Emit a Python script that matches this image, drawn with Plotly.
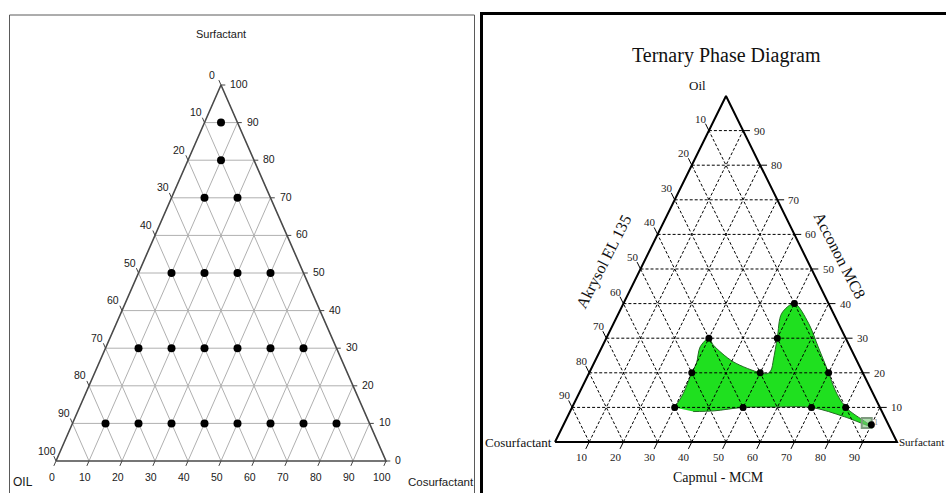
import plotly.graph_objects as go

W, H = 946, 493

# ---------------- Left diagram: Surfactant (top), OIL (bottom-left), Cosurfactant (bottom-right)
left_ticks = [0, 10, 20, 30, 40, 50, 60, 70, 80, 90, 100]
left_tick_text = [str(v) for v in left_ticks]
left_surfactant = [90, 80, 70, 70, 50, 50, 50, 50, 30, 30, 30, 30, 30, 30,
                   10, 10, 10, 10, 10, 10, 10, 10]
left_cosurfactant = [5, 10, 10, 20, 10, 20, 30, 40, 10, 20, 30, 40, 50, 60,
                     10, 20, 30, 40, 50, 60, 70, 80]
left_oil = [5, 10, 20, 10, 40, 30, 20, 10, 60, 50, 40, 30, 20, 10,
            80, 70, 60, 50, 40, 30, 20, 10]

# ---------------- Right diagram: Oil (top), Cosurfactant (bottom-left), Surfactant (bottom-right)
right_ticks = [10, 20, 30, 40, 50, 60, 70, 80, 90]
right_tick_text = [str(v) for v in right_ticks]
right_oil = [40, 30, 30, 20, 20, 20, 10, 10, 10, 10, 5]
right_surfactant = [50, 30, 50, 30, 50, 70, 30, 50, 70, 80, 90]
right_cosurfactant = [10, 40, 20, 50, 30, 10, 60, 40, 20, 10, 5]

# microemulsion region boundary (oil %, surfactant %)
region_oil = [8.8, 9.0, 10, 10.1, 10, 7.3, 4.6, 10, 15, 20, 27.5, 34.3, 40,
              37.2, 30, 23.7, 20.8, 19.8, 20, 23.2, 28, 30, 27.5, 22.7, 20, 14, 10]
region_surfactant = [36, 42, 50, 59, 70, 81, 90, 80, 74.4, 70, 63.2, 57, 50,
                     47.7, 50, 52, 52.8, 52.3, 50, 40.5, 32.3, 30, 28.7, 30, 30, 30.5, 30]

# highlighted (selected) composition
sel_oil = [5.5]
sel_surfactant = [88.4]


def tern_xy(top, right):
    """Project a ternary composition onto the triangle plane (0..100 units)."""
    return right + top / 2.0, top


def xy_lists(tops, rights):
    xs, ys = [], []
    for t, r in zip(tops, rights):
        x, y = tern_xy(t, r)
        xs.append(x)
        ys.append(y)
    return xs, ys


def segments(pairs):
    """pairs: list of ((top, right), (top, right)) -> x/y lists with gaps."""
    xs, ys = [], []
    for (t0, r0), (t1, r1) in pairs:
        x0, y0 = tern_xy(t0, r0)
        x1, y1 = tern_xy(t1, r1)
        xs += [x0, x1, None]
        ys += [y0, y1, None]
    return xs, ys


def grid_pairs(values):
    pairs = []
    for v in values:
        # constant top component (horizontal)
        pairs.append(((v, 0), (v, 100 - v)))
        # constant right component
        pairs.append(((0, v), (100 - v, v)))
        # constant left component
        pairs.append(((0, 100 - v), (100 - v, 0)))
    return pairs


def tick_pairs(values, t):
    """Short extensions of the grid lines beyond each edge."""
    right_edge, left_edge, bottom = [], [], []
    for v in values:
        # right edge: constant top = v, left component pushed to -t
        right_edge.append(((v, 100 - v), (v, 100 - v + t)))
        # left edge: constant left component = v, right component pushed to -t
        left_edge.append(((100 - v, 0), (100 - v + t, -t)))
        # bottom: constant right component = v, top pushed to -t
        bottom.append(((0, v), (-t, v)))
    return right_edge + left_edge + bottom


def domain(p0, p100, lo, hi, total, vertical):
    def px(v):
        return p0 + (p100 - p0) * v / 100.0
    if vertical:
        return [1 - px(lo) / total, 1 - px(hi) / total]
    return [px(lo) / total, px(hi) / total]


fig = go.Figure()

# ===================== left diagram =====================
L_X0, L_X100, L_Y0, L_Y100 = 56, 386, 461, 85
lx_rng, ly_rng = (-13, 113), (-7, 108)

gx, gy = segments(grid_pairs(left_ticks[1:-1]))
fig.add_trace(go.Scatter(x=gx, y=gy, mode="lines", xaxis="x", yaxis="y",
                         line=dict(color="#b0b0b0", width=1), hoverinfo="skip"))
tx, ty = segments(tick_pairs(left_ticks, 1.3))
fig.add_trace(go.Scatter(x=tx, y=ty, mode="lines", xaxis="x", yaxis="y",
                         line=dict(color="#444444", width=1), hoverinfo="skip"))
ex, ey = xy_lists([0, 0, 100, 0], [0, 100, 0, 0])
fig.add_trace(go.Scatter(x=ex, y=ey, mode="lines", xaxis="x", yaxis="y",
                         line=dict(color="#4a4a4a", width=1.6), hoverinfo="skip"))
px_, py_ = xy_lists(left_surfactant, left_cosurfactant)
fig.add_trace(go.Scatter(x=px_, y=py_, mode="markers", xaxis="x", yaxis="y",
                         marker=dict(color="black", size=8), cliponaxis=False,
                         customdata=list(zip(left_surfactant, left_oil, left_cosurfactant)),
                         hovertemplate="Surfactant %{customdata[0]}<br>Oil %{customdata[1]}"
                                       "<br>Cosurfactant %{customdata[2]}<extra></extra>"))

# ===================== right diagram =====================
R_X0, R_X100, R_Y0, R_Y100 = 555, 897, 442, 96
rx_rng, ry_rng = (-12, 111), (-8, 106)

rgx, rgy = xy_lists(region_oil, region_surfactant)
fig.add_trace(go.Scatter(x=rgx, y=rgy, mode="lines", xaxis="x2", yaxis="y2",
                         fill="toself", fillcolor="#1fe01f",
                         line=dict(color="#246b24", width=1, shape="spline", smoothing=0.9),
                         hoverinfo="skip"))
gx, gy = segments(grid_pairs(right_ticks))
fig.add_trace(go.Scatter(x=gx, y=gy, mode="lines", xaxis="x2", yaxis="y2",
                         line=dict(color="black", width=1, dash="3px,2px"), hoverinfo="skip"))
tx, ty = segments(tick_pairs(right_ticks, 2.0))
fig.add_trace(go.Scatter(x=tx, y=ty, mode="lines", xaxis="x2", yaxis="y2",
                         line=dict(color="black", width=1), hoverinfo="skip"))
ex, ey = xy_lists([0, 0, 100, 0], [0, 100, 0, 0])
fig.add_trace(go.Scatter(x=ex, y=ey, mode="lines", xaxis="x2", yaxis="y2",
                         line=dict(color="black", width=2), hoverinfo="skip"))
sx, sy = xy_lists(sel_oil, sel_surfactant)
fig.add_trace(go.Scatter(x=sx, y=sy, mode="markers+text", xaxis="x2", yaxis="y2",
                         text=["1"], textposition="middle right",
                         textfont=dict(family="Liberation Serif", size=8, color="#888888"),
                         marker=dict(symbol="square", size=10, color="rgba(120,200,120,0.6)",
                                     line=dict(color="#7f9a7f", width=2)),
                         cliponaxis=False, hoverinfo="skip"))
dx, dy = xy_lists(right_oil, right_surfactant)
fig.add_trace(go.Scatter(x=dx, y=dy, mode="markers", xaxis="x2", yaxis="y2",
                         marker=dict(color="black", size=7), cliponaxis=False,
                         customdata=list(zip(right_oil, right_surfactant, right_cosurfactant)),
                         hovertemplate="Oil %{customdata[0]}<br>Surfactant %{customdata[1]}"
                                       "<br>Cosurfactant %{customdata[2]}<extra></extra>"))

# ===================== tick labels =====================
SANS = "Liberation Sans, Arial, sans-serif"
SERIF = "Liberation Serif, Times New Roman, serif"
ann = []


def tick_label(ax, top, right, text, xs, ys, font, xanchor="center"):
    x, y = tern_xy(top, right)
    ann.append(dict(x=x, y=y, xref=ax, yref=ax.replace("x", "y"), text=text,
                    showarrow=False, xshift=xs, yshift=ys, xanchor=xanchor,
                    yanchor="middle", font=font))


lf = dict(family=SANS, size=10.5, color="#1a1a1a")
for v, s in zip(left_ticks, left_tick_text):
    tick_label("x", 100 - v, 0, s, -9, 10.5, lf)          # OIL along left edge
    tick_label("x", v, 100 - v, s, 7, 1, lf, "left")      # Surfactant along right edge
    tick_label("x", 0, v, s, -4, -16, lf)                 # Cosurfactant along bottom

rf = dict(family=SERIF, size=11, color="#222222")
for v, s in zip(right_ticks, right_tick_text):
    tick_label("x2", 100 - v, 0, s, -7.5, 12, rf)         # left edge
    tick_label("x2", v, 100 - v, s, 9, 0, rf, "left")     # right edge
    tick_label("x2", 0, v, s, -7.5, -15, rf)              # bottom


def paper_text(px, py, text, font, xanchor="center", angle=0):
    ann.append(dict(x=px / W, y=1 - py / H, xref="paper", yref="paper", text=text,
                    showarrow=False, xanchor=xanchor, yanchor="middle",
                    textangle=angle, font=font))


lt = dict(family=SANS, size=11, color="#1a1a1a")
paper_text(221, 34, "Surfactant", lt)
paper_text(11, 482, "OIL", dict(family=SANS, size=12, color="#1a1a1a"), "left")
paper_text(441, 482, "Cosurfactant", dict(family=SANS, size=11.5, color="#1a1a1a"))

paper_text(726, 55, "Ternary Phase Diagram", dict(family=SERIF, size=20, color="#111111"))
rt = dict(family=SERIF, size=13, color="#111111")
paper_text(697, 86, "Oil", rt)
paper_text(554, 442, "Cosurfactant", rt, "right")
paper_text(897, 442, "Surfactant", dict(family=SERIF, size=11, color="#111111"), "left")
paper_text(718, 477, "Capmul - MCM", dict(family=SERIF, size=14, color="#111111"))
paper_text(604, 262, "Akrysol EL 135", dict(family=SERIF, size=16, color="#111111"), angle=-63)
paper_text(840, 255, "Acconon MC8", dict(family=SERIF, size=16, color="#111111"), angle=63)


def px_rect(x0, y0, x1, y1, color, width):
    return dict(type="rect", xref="paper", yref="paper",
                x0=x0 / W, x1=x1 / W, y0=1 - y1 / H, y1=1 - y0 / H,
                line=dict(color=color, width=width), fillcolor="rgba(0,0,0,0)",
                layer="below")


hidden = dict(visible=False, fixedrange=True, showgrid=False, zeroline=False)
fig.update_layout(
    width=W, height=H,
    margin=dict(l=0, r=0, t=0, b=0),
    paper_bgcolor="white", plot_bgcolor="rgba(0,0,0,0)",
    showlegend=False,
    xaxis=dict(hidden, range=list(lx_rng), anchor="y",
               domain=domain(L_X0, L_X100, lx_rng[0], lx_rng[1], W, False)),
    yaxis=dict(hidden, range=list(ly_rng), anchor="x",
               domain=domain(L_Y0, L_Y100, ly_rng[0], ly_rng[1], H, True)),
    xaxis2=dict(hidden, range=list(rx_rng), anchor="y2",
                domain=domain(R_X0, R_X100, rx_rng[0], rx_rng[1], W, False)),
    yaxis2=dict(hidden, range=list(ry_rng), anchor="x2",
                domain=domain(R_Y0, R_Y100, ry_rng[0], ry_rng[1], H, True)),
    annotations=ann,
    shapes=[px_rect(9.5, 15, 474.5, 520, "#5a5a5a", 1),
            px_rect(481.5, 13.5, 970, 520, "black", 3)],
)

fig.write_html("out.html")
